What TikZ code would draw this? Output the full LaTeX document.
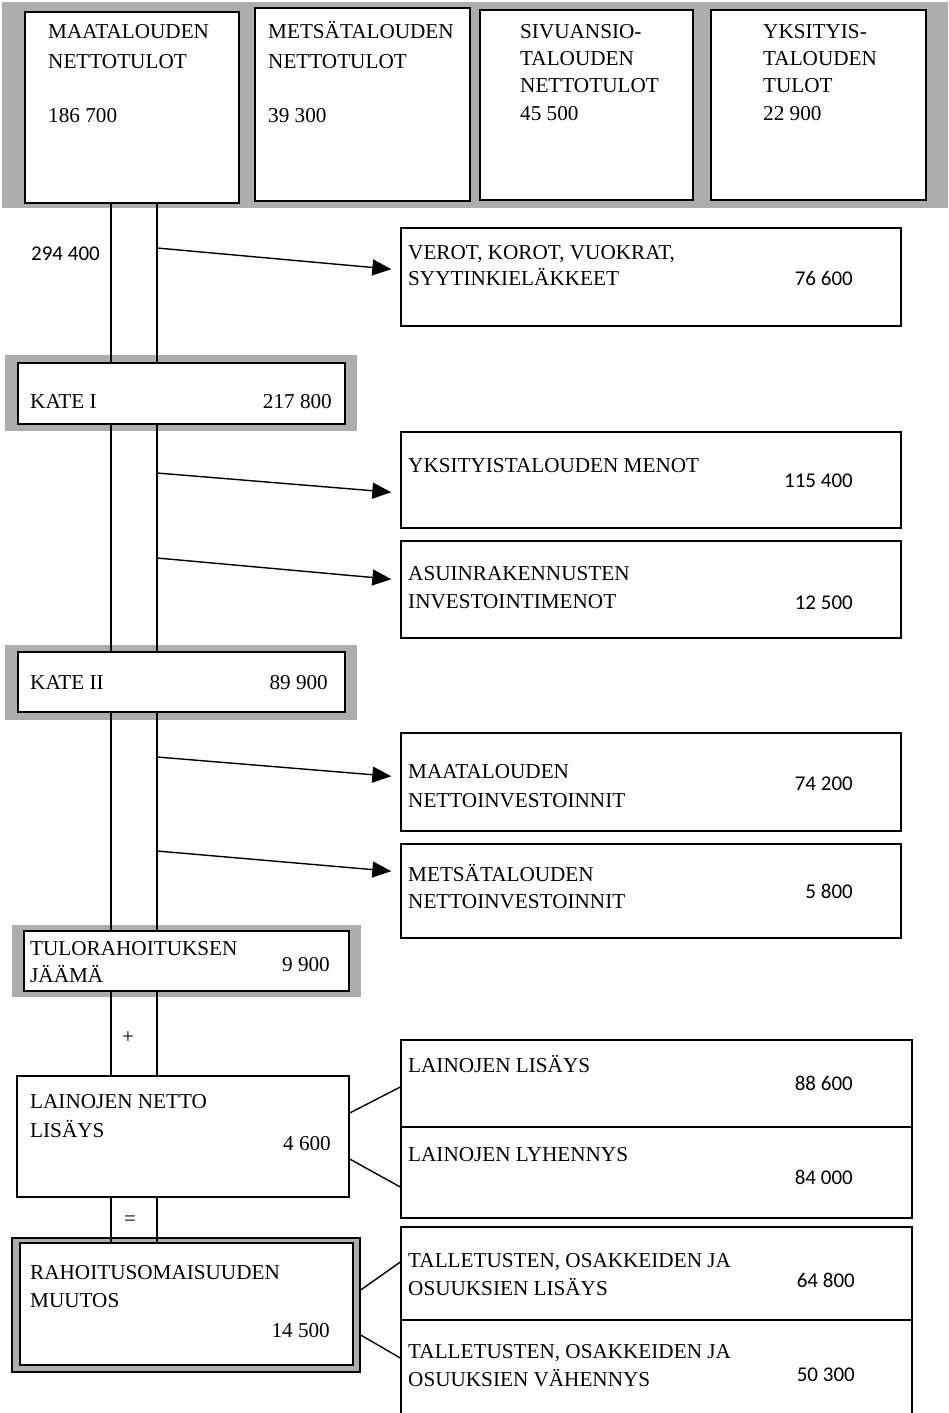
\documentclass[tikz,border=0pt]{standalone}
\usepackage{fontspec}
\setmainfont{Liberation Serif}
\newfontfamily\numfont{Carlito}
\usetikzlibrary{arrows.meta,fit}

\begin{document}
\begin{tikzpicture}[x=1pt,y=-1pt,
    block_box/.style ={rectangle, draw=black, line width=1.4pt, fill=white,
      inner sep=0pt},
    block_grey/.style ={rectangle, draw=none, fill=black!32, inner sep=0pt},
    text_left/.style ={anchor=base west, align=left, inner sep=0pt,
      font=\fontsize{21.2}{28}\selectfont},
    text_num/.style ={anchor=base east, inner sep=0pt,
      font=\fontsize{21.2}{28}\selectfont},
    text_sans/.style ={anchor=base east, inner sep=0pt,
      font=\numfont\fontsize{21}{28}\selectfont},
    line/.style ={draw, line width=1.4pt},
    arrow/.style ={draw, line width=1.4pt,
      -{Triangle[length=19pt,width=16pt]}, shorten >=9pt}]
    \useasboundingbox (0,0) rectangle (948,1413);
    \clip (0,0) rectangle (948,1413);
    % income boxes on grey band (multi-line texts sit on their last baseline)
    \node [block_grey, fit={(2,2) (948,208)}] (top_band) {};
    \node [block_box, fit={(25,12) (239,203)}] (maa_tulot) {};
    \node [block_box, fit={(255,8) (470,201)}] (met_tulot) {};
    \node [block_box, fit={(480,10) (693,200)}] (siv_tulot) {};
    \node [block_box, fit={(711,10) (926,200)}] (yks_tulot) {};
    \node [text_left, font=\fontsize{21.2}{29}\selectfont] (maa_tulot_t) at (48,68) {MAATALOUDEN\\NETTOTULOT};
    \node [text_left] (maa_tulot_n) at (48,122) {186 700};
    \node [text_left, font=\fontsize{21.2}{29}\selectfont] (met_tulot_t) at (268,68) {METSÄTALOUDEN\\NETTOTULOT};
    \node [text_left] (met_tulot_n) at (268,122) {39 300};
    \node [text_left, font=\fontsize{21.2}{27.3}\selectfont] (siv_tulot_t) at (520,120) {SIVUANSIO-\\TALOUDEN\\NETTOTULOT\\45 500};
    \node [text_left, font=\fontsize{21.2}{27.3}\selectfont] (yks_tulot_t) at (763,120) {YKSITYIS-\\TALOUDEN\\TULOT\\22 900};
    \node [text_sans] (summa) at (100,260) {294 400};
    % left column
    \node [block_grey, fit={(5,355) (357,431)}] (kate_1_bg) {};
    \node [block_box, fit={(18,363) (345,424)}] (kate_1) {};
    \node [text_left] (kate_1_t) at (30,408) {KATE I};
    \node [text_num] (kate_1_n) at (332,408) {217 800};
    \node [block_grey, fit={(5,645) (357,720)}] (kate_2_bg) {};
    \node [block_box, fit={(18,652) (345,712)}] (kate_2) {};
    \node [text_left] (kate_2_t) at (30,689) {KATE II};
    \node [text_num] (kate_2_n) at (328,689) {89 900};
    \node [block_grey, fit={(12,925) (361,997)}] (jaama_bg) {};
    \node [block_box, fit={(24,931) (349,991)}] (jaama) {};
    \node [text_left, font=\fontsize{21.2}{27}\selectfont] (jaama_t) at (30,982) {TULORAHOITUKSEN\\JÄÄMÄ};
    \node [text_num] (jaama_n) at (330,971) {9 900};
    \node [block_box, fit={(17,1076) (349,1197)}] (laina_netto) {};
    \node [text_left, font=\fontsize{21.2}{29}\selectfont] (laina_netto_t) at (30,1137) {LAINOJEN NETTO\\LISÄYS};
    \node [text_num] (laina_netto_n) at (331,1150) {4 600};
    \node [block_box, fill=black!32, fit={(12,1238) (360,1372)}] (rah_muutos) {};
    \node [block_box, fit={(20,1243) (353,1365)}] (rah_inner) {};
    \node [text_left] (rah_muutos_t) at (30,1307) {RAHOITUSOMAISUUDEN\\MUUTOS};
    \node [text_num] (rah_muutos_n) at (330,1337) {14 500};
    \node [inner sep=0pt, font=\fontsize{21}{24}\selectfont] (plus) at (128,1038) {+};
    \node [inner sep=0pt, font=\fontsize{21}{24}\selectfont] (equals) at (130,1221) {=};
    % right column
    \node [block_box, fit={(401,228) (901,326)}] (verot) {};
    \node [text_left, font=\fontsize{21.2}{26}\selectfont] (verot_t) at (408,285) {VEROT, KOROT, VUOKRAT,\\SYYTINKIELÄKKEET};
    \node [text_sans] (verot_n) at (853,285) {76 600};
    \node [block_box, fit={(401,432) (901,528)}] (yks_menot) {};
    \node [text_left] (yks_menot_t) at (408,472) {YKSITYISTALOUDEN MENOT};
    \node [text_sans] (yks_menot_n) at (853,487) {115 400};
    \node [block_box, fit={(401,541) (901,638)}] (asuin) {};
    \node [text_left] (asuin_t) at (408,608) {ASUINRAKENNUSTEN\\INVESTOINTIMENOT};
    \node [text_sans] (asuin_n) at (853,609) {12 500};
    \node [block_box, fit={(401,733) (901,831)}] (maa_inv) {};
    \node [text_left, font=\fontsize{21.2}{29}\selectfont] (maa_inv_t) at (408,807) {MAATALOUDEN\\NETTOINVESTOINNIT};
    \node [text_sans] (maa_inv_n) at (853,790) {74 200};
    \node [block_box, fit={(401,844) (901,938)}] (met_inv) {};
    \node [text_left, font=\fontsize{21.2}{27}\selectfont] (met_inv_t) at (408,908) {METSÄTALOUDEN\\NETTOINVESTOINNIT};
    \node [text_sans] (met_inv_n) at (853,898) {5 800};
    \node [block_box, fit={(401,1040) (912,1127)}] (laina_lisays) {};
    \node [text_left] (laina_lisays_t) at (408,1072) {LAINOJEN LISÄYS};
    \node [text_sans] (laina_lisays_n) at (853,1090) {88 600};
    \node [block_box, fit={(401,1127) (912,1218)}] (laina_lyh) {};
    \node [text_left] (laina_lyh_t) at (408,1161) {LAINOJEN LYHENNYS};
    \node [text_sans] (laina_lyh_n) at (853,1184) {84 000};
    \node [block_box, fit={(401,1227) (912,1320)}] (tal_lisays) {};
    \node [text_left] (tal_lisays_t) at (408,1295) {TALLETUSTEN, OSAKKEIDEN JA\\OSUUKSIEN LISÄYS};
    \node [text_sans] (tal_lisays_n) at (855,1287) {64 800};
    \node [block_box, fit={(401,1320) (912,1416)}] (tal_vah) {};
    \node [text_left] (tal_vah_t) at (408,1386) {TALLETUSTEN, OSAKKEIDEN JA\\OSUUKSIEN VÄHENNYS};
    \node [text_sans] (tal_vah_n) at (855,1381) {50 300};
    % the flow channel
    \coordinate (chan_l) at (111,0);
    \coordinate (chan_r) at (157,0);
    \begin{scope}[every path/.style=line]
      \path (chan_l |- maa_tulot.south) -- (chan_l |- kate_1.north);
      \path (chan_r |- maa_tulot.south) -- (chan_r |- kate_1.north);
      \path (chan_l |- kate_1.south) -- (chan_l |- kate_2.north);
      \path (chan_r |- kate_1.south) -- (chan_r |- kate_2.north);
      \path (chan_l |- kate_2.south) -- (chan_l |- jaama.north);
      \path (chan_r |- kate_2.south) -- (chan_r |- jaama.north);
      \path (chan_l |- jaama.south) -- (chan_l |- laina_netto.north);
      \path (chan_r |- jaama.south) -- (chan_r |- laina_netto.north);
      \path (chan_l |- laina_netto.south) -- (chan_l |- rah_inner.north);
      \path (chan_r |- laina_netto.south) -- (chan_r |- rah_inner.north);
      \path ([yshift=23.5pt]laina_netto.east) -- ([yshift=-3.5pt]laina_lisays.west);
      \path ([yshift=-22.5pt]laina_netto.east) -- ([yshift=-14.5pt]laina_lyh.west);
      \path ([yshift=15pt]rah_muutos.east) -- ([yshift=11.5pt]tal_lisays.west);
      \path ([yshift=-30pt]rah_muutos.east) -- ([yshift=10pt]tal_vah.west);
    \end{scope}
    % outflows
    \coordinate (out_1) at (157,248);
    \coordinate (out_2) at (157,473);
    \coordinate (out_3) at (157,558);
    \coordinate (out_4) at (157,757);
    \coordinate (out_5) at (157,851);
    \begin{scope}[every path/.style=arrow]
      \path (out_1) -- ([yshift=7pt]verot.west);
      \path (out_2) -- ([yshift=-13pt]yks_menot.west);
      \path (out_3) -- ([yshift=9.5pt]asuin.west);
      \path (out_4) -- ([yshift=5pt]maa_inv.west);
      \path (out_5) -- ([yshift=19pt]met_inv.west);
    \end{scope}
  \end{tikzpicture}
\end{document}
